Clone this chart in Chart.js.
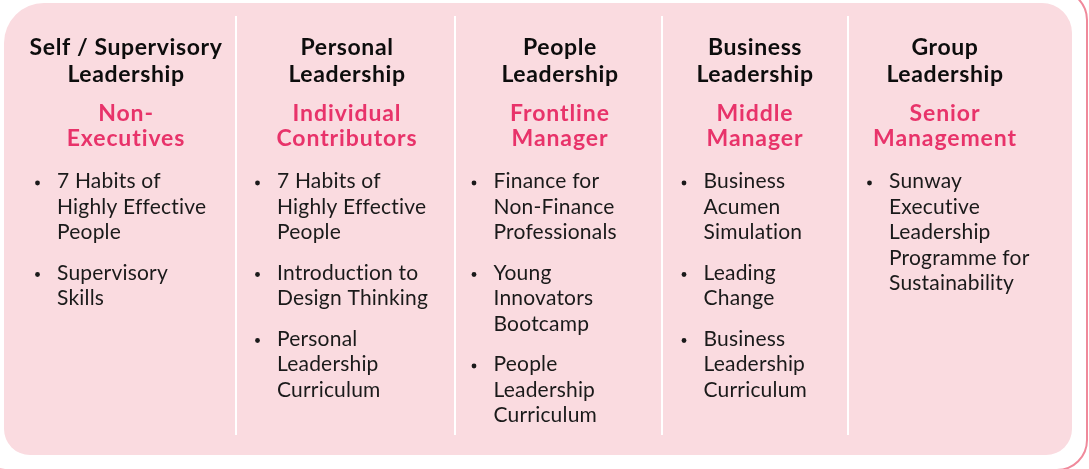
<!DOCTYPE html>
<html>
<head>
<meta charset="utf-8">
<script src="https://cdn.jsdelivr.net/npm/chart.js@4.4.1/dist/chart.umd.min.js"></script>
<style>
  html, body { margin: 0; padding: 0; background: #ffffff; }
  #wrap { width: 1089px; height: 469px; position: relative; }
  canvas { display: block; }
</style>
</head>
<body>
<div id="wrap"><canvas id="c" width="1089" height="469"></canvas></div>
<script>
// ---- content (data) ----
const titles = [
  ["Self / Supervisory", "Leadership"],
  ["Personal", "Leadership"],
  ["People", "Leadership"],
  ["Business", "Leadership"],
  ["Group", "Leadership"]
];
const levels = [
  ["Non-", "Executives"],
  ["Individual", "Contributors"],
  ["Frontline", "Manager"],
  ["Middle", "Manager"],
  ["Senior", "Management"]
];
const programmes = [
  [["7 Habits of", "Highly Effective", "People"], ["Supervisory", "Skills"]],
  [["7 Habits of", "Highly Effective", "People"], ["Introduction to", "Design Thinking"], ["Personal", "Leadership", "Curriculum"]],
  [["Finance for", "Non-Finance", "Professionals"], ["Young", "Innovators", "Bootcamp"], ["People", "Leadership", "Curriculum"]],
  [["Business", "Acumen", "Simulation"], ["Leading", "Change"], ["Business", "Leadership", "Curriculum"]],
  [["Sunway", "Executive", "Leadership", "Programme for", "Sustainability"]]
];

// ---- layout (positions in scale units) ----
const layout = {
  colCenters: [126, 347, 560, 755, 945],
  textLeft: [57, 277, 493.5, 703.5, 889],
  separators: [236, 455, 662, 848],
  sepTop: 16, sepBottom: 435,
  box: { l: 4, t: 3, r: 1072, b: 455 },
  outer: { l: -25, t: -10, r: 1087, b: 470 },
  titleBase: [55, 82],
  levelBase: [121, 146],
  bodyStart: 188, bodyLine: 25.5, itemGap: 15,
  bulletOffset: 19.5
};
const style = {
  fill: '#fadbe0', outerStroke: '#f0899b', sep: '#ffffff',
  title: '#0d0d0d', level: '#e8336a', body: '#1a1a1a',
  fontFamily: 'Lato, "Open Sans", sans-serif',
  titleFont: 'bold 23px ', levelFont: 'bold 23px ', bodyFont: '21px ',
  titleSpacing: '0.6px', levelSpacing: '0.9px', bodySpacing: '0.2px'
};

function roundRect(ctx, l, t, r, b, radii) {
  const [tl, tr, br, bl] = radii;
  ctx.beginPath();
  ctx.moveTo(l + tl, t);
  ctx.lineTo(r - tr, t);
  ctx.arcTo(r, t, r, t + tr, tr);
  ctx.lineTo(r, b - br);
  ctx.arcTo(r, b, r - br, b, br);
  ctx.lineTo(l + bl, b);
  ctx.arcTo(l, b, l, b - bl, bl);
  ctx.lineTo(l, t + tl);
  ctx.arcTo(l, t, l + tl, t, tl);
  ctx.closePath();
}

const infographic = {
  id: 'infographic',
  beforeDraw(chart) {
    const ctx = chart.ctx;
    const X = v => chart.scales.x.getPixelForValue(v);
    const Y = v => chart.scales.y.getPixelForValue(v);
    ctx.save();
    // outer outline
    const o = layout.outer;
    roundRect(ctx, X(o.l), Y(o.t), X(o.r), Y(o.b), [30, 30, 30, 30]);
    ctx.strokeStyle = style.outerStroke;
    ctx.lineWidth = 2;
    ctx.stroke();
    // pink panel
    const bx = layout.box;
    roundRect(ctx, X(bx.l), Y(bx.t), X(bx.r), Y(bx.b), [40, 30, 26, 26]);
    ctx.fillStyle = style.fill;
    ctx.fill();
    // separators
    ctx.fillStyle = style.sep;
    layout.separators.forEach(s => {
      ctx.fillRect(X(s) - 1, Y(layout.sepTop), 2, Y(layout.sepBottom) - Y(layout.sepTop));
    });
    // headings
    ctx.textBaseline = 'alphabetic';
    ctx.textAlign = 'center';
    titles.forEach((lines, i) => {
      ctx.font = style.titleFont + style.fontFamily;
      ctx.letterSpacing = style.titleSpacing;
      ctx.fillStyle = style.title;
      lines.forEach((ln, k) => ctx.fillText(ln, X(layout.colCenters[i]), Y(layout.titleBase[k])));
      ctx.font = style.levelFont + style.fontFamily;
      ctx.letterSpacing = style.levelSpacing;
      ctx.fillStyle = style.level;
      levels[i].forEach((ln, k) => ctx.fillText(ln, X(layout.colCenters[i]), Y(layout.levelBase[k])));
    });
    // programme bullets
    ctx.textAlign = 'left';
    ctx.font = style.bodyFont + style.fontFamily;
    ctx.letterSpacing = style.bodySpacing;
    programmes.forEach((items, i) => {
      let y = layout.bodyStart;
      const xl = layout.textLeft[i];
      items.forEach(lines => {
        ctx.fillStyle = style.body;
        ctx.beginPath();
        ctx.arc(X(xl - layout.bulletOffset), Y(y - 5), 2.4, 0, Math.PI * 2);
        ctx.fill();
        lines.forEach((ln, k) => {
          ctx.fillText(ln, X(xl), Y(y + k * layout.bodyLine));
        });
        y += lines.length * layout.bodyLine + layout.itemGap;
      });
    });
    ctx.restore();
  }
};

new Chart(document.getElementById('c'), {
  type: 'scatter',
  data: {
    labels: titles.map(t => t.join(' ')),
    datasets: []
  },
  options: {
    responsive: false,
    animation: false,
    events: [],
    layout: { padding: 0 },
    plugins: { legend: { display: false }, tooltip: { enabled: false }, title: { display: false } },
    scales: {
      x: { type: 'linear', min: 0, max: 1089, display: false },
      y: { type: 'linear', min: 0, max: 469, reverse: true, display: false }
    }
  },
  plugins: [infographic]
});
</script>
</body>
</html>
